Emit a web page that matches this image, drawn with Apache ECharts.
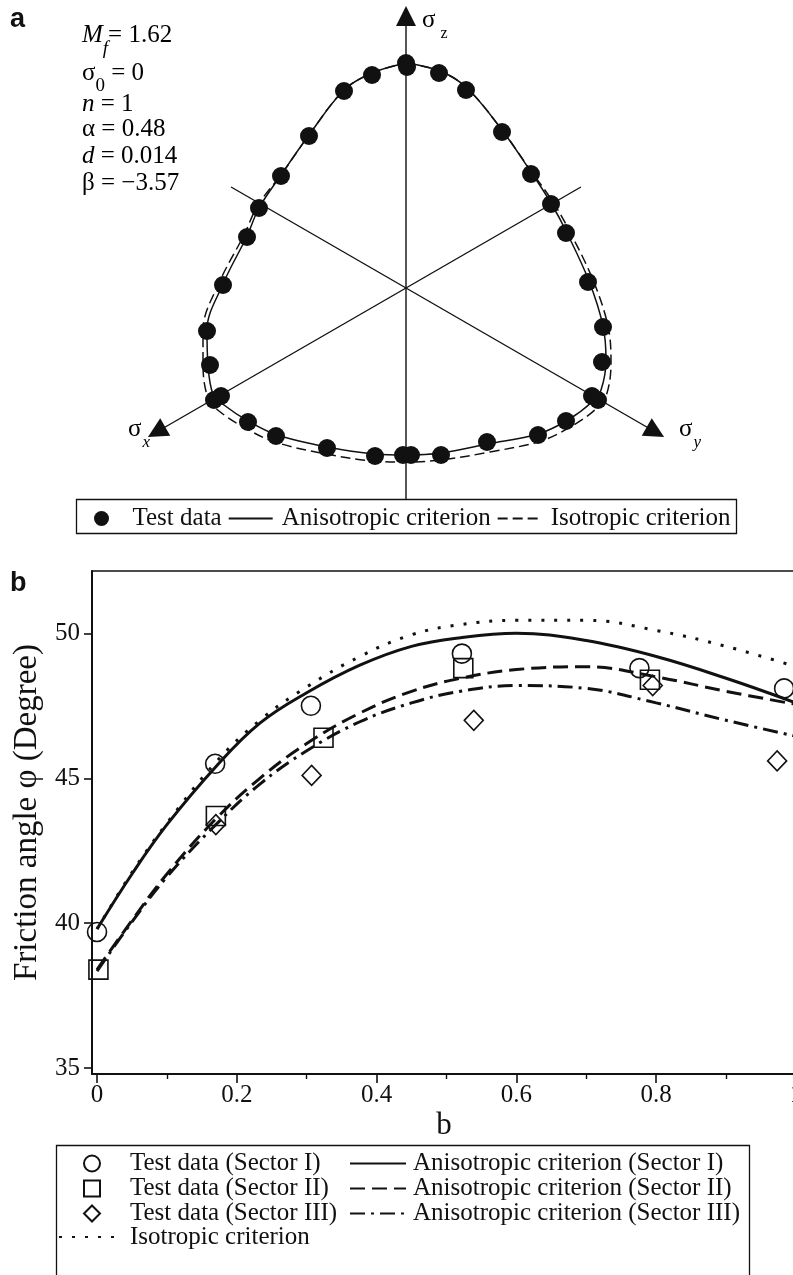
<!DOCTYPE html>
<html><head><meta charset="utf-8">
<script src="https://cdn.jsdelivr.net/npm/echarts@6/dist/echarts.min.js"></script>
<style>html,body{margin:0;padding:0;background:#fff}#c{width:793px;height:1275px}</style>
</head><body><div id="c"></div>
<script>
// ================= Panel a: deviatoric (pi) plane, normalised units =================
const testDataX = [0, 0.01, -0.34, -0.62, -0.97, -1.25, -1.47, -1.59, -1.83, -1.99, -1.96, -1.92, -1.85, -1.58, -1.30, -0.79, -0.31, -0.03, 0.05, 0.35, 0.81, 1.32, 1.60, 1.86, 1.92, 1.96, 1.97, 1.82, 1.60, 1.45, 1.25, 0.96, 0.60, 0.33];
const testDataY = [2.25, 2.21, 2.13, 1.97, 1.52, 1.12, 0.80, 0.51, 0.03, -0.43, -0.77, -1.12, -1.08, -1.34, -1.48, -1.60, -1.68, -1.67, -1.67, -1.67, -1.54, -1.47, -1.33, -1.08, -1.12, -0.74, -0.39, 0.06, 0.55, 0.84, 1.14, 1.56, 1.98, 2.15];

const anisoX = [0, 0.34, 0.61, 0.96, 1.25, 1.45, 1.61, 1.83, 1.97, 2.00, 1.95, 1.86, 1.62, 1.32, 0.82, 0.35, 0, -0.31, -0.79, -1.29, -1.58, -1.82, -1.93, -1.98, -1.99, -1.83, -1.59, -1.47, -1.25, -0.97, -0.62, -0.34, 0];
const anisoY = [2.25, 2.17, 2.00, 1.58, 1.16, 0.85, 0.55, 0.07, -0.38, -0.72, -1.02, -1.14, -1.32, -1.46, -1.56, -1.65, -1.67, -1.66, -1.59, -1.47, -1.33, -1.17, -1.06, -0.77, -0.42, 0.04, 0.52, 0.80, 1.13, 1.53, 1.98, 2.15, 2.25];

const isoX = [0, 0.34, 0.61, 0.96, 1.25, 1.47, 1.64, 1.87, 2.02, 2.05, 2.01, 1.91, 1.66, 1.35, 0.84, 0.35, 0, -0.33, -0.80, -1.31, -1.61, -1.87, -1.98, -2.03, -2.03, -1.87, -1.62, -1.48, -1.25, -0.97, -0.62, -0.34, 0];
const isoY = [2.25, 2.17, 2.00, 1.58, 1.17, 0.86, 0.56, 0.08, -0.38, -0.74, -1.05, -1.20, -1.38, -1.53, -1.64, -1.72, -1.74, -1.73, -1.66, -1.54, -1.40, -1.23, -1.10, -0.77, -0.42, 0.05, 0.53, 0.83, 1.13, 1.53, 1.98, 2.15, 2.25];

// principal stress axes: direction (deg), positive reach (arrow tip), negative reach
const axisNames = ['z', 'x', 'y'];
const axisAngles = [90, 210, -30];
const axisTip = [2.82, 2.98, 2.98];
const axisTail = [2.11, 2.02, 2.02];

const paramLines = [
  '{it|M}{subit|f}{n|= 1.62}',
  '{n|σ}{sub|0}{n| = 0}',
  '{it|n}{n| = 1}',
  '{n|α = 0.48}',
  '{it|d}{n| = 0.014}',
  '{n|β = −3.57}'
];

// ================= Panel b: friction angle vs b =================
const bSectorI = [0, 0.169, 0.306, 0.522, 0.776, 0.983];
const phiSectorI = [39.7, 45.5, 47.5, 49.3, 48.8, 48.1];
const bSectorII = [0.002, 0.17, 0.324, 0.524, 0.791];
const phiSectorII = [38.4, 43.7, 46.4, 48.8, 48.4];
const bSectorIII = [0.17, 0.307, 0.539, 0.795, 0.973];
const phiSectorIII = [43.4, 45.1, 47.0, 48.2, 45.6];

const bCurve = [0, 0.05, 0.1, 0.17, 0.233, 0.3, 0.376, 0.45, 0.52, 0.6, 0.7, 0.8, 0.9, 1.0];
const phiAnisoI = [39.8, 41.7, 43.4, 45.4, 46.9, 47.95, 48.9, 49.55, 49.85, 50.0, 49.75, 49.2, 48.45, 47.6];
const phiAnisoII = [38.4, 40.1, 41.7, 43.6, 45.0, 46.2, 47.25, 48.0, 48.45, 48.75, 48.85, 48.5, 48.0, 47.55];
const phiAnisoIII = [38.35, 40.05, 41.6, 43.4, 44.8, 45.95, 46.95, 47.6, 48.0, 48.2, 48.1, 47.6, 47.0, 46.45];
const phiIso = [39.8, 41.75, 43.45, 45.55, 47.0, 48.15, 49.2, 49.95, 50.3, 50.45, 50.45, 50.1, 49.55, 48.85];

const bTicks = [0, 0.2, 0.4, 0.6, 0.8, 1];
const bMinorTicks = [0.1, 0.3, 0.5, 0.7, 0.9];
const phiTicks = [35, 40, 45, 50];

// ================= build =================
const FONT = 'Liberation Serif';
const INK = '#111111';
const zip = (xs, ys) => xs.map((x, i) => [x, ys[i]]);
const rad = d => d * Math.PI / 180;

const chart = echarts.init(document.getElementById('c'), null, {renderer: 'canvas'});

const axisLineSeries = axisAngles.map((a, i) => ({
  type: 'line', name: 'axis-' + axisNames[i], xAxisIndex: 0, yAxisIndex: 0,
  data: [[-axisTail[i] * Math.cos(rad(a)), -axisTail[i] * Math.sin(rad(a))],
         [(axisTip[i] - 0.1) * Math.cos(rad(a)), (axisTip[i] - 0.1) * Math.sin(rad(a))]],
  symbol: 'none', silent: true, lineStyle: {color: INK, width: 1.4}, z: 1
}));

const arrowSeries = {
  type: 'scatter', name: 'arrows', xAxisIndex: 0, yAxisIndex: 0, silent: true,
  data: axisAngles.map((a, i) => ({
    value: [(axisTip[i] - 0.1) * Math.cos(rad(a)), (axisTip[i] - 0.1) * Math.sin(rad(a))],
    symbolRotate: a - 90
  })),
  symbol: 'triangle', symbolSize: [20, 20], itemStyle: {color: INK, opacity: 1}, z: 2
};

const base = {fontFamily: FONT, color: INK, verticalAlign: 'bottom'};
const rich = {
  n: Object.assign({fontSize: 25, lineHeight: 25, padding: [0, 0, 10, 0]}, base),
  it: Object.assign({fontSize: 25, lineHeight: 25, padding: [0, 0, 10, 0], fontStyle: 'italic'}, base),
  sub: Object.assign({fontSize: 19, lineHeight: 19}, base),
  subit: Object.assign({fontSize: 19, lineHeight: 19, fontStyle: 'italic'}, base),
  g: Object.assign({fontSize: 25, lineHeight: 25, padding: [0, 0, 9, 0]}, base),
  ax: Object.assign({fontSize: 16, lineHeight: 16, padding: [0, 0, 0, 5]}, base),
  axit: Object.assign({fontSize: 17, lineHeight: 17, fontStyle: 'italic', padding: [0, 0, 0, 1]}, base)
};
const paramTops = [23, 60.5, 91.5, 116.5, 143.5, 170.5];
const graphics = paramLines.map((t, i) => ({
  type: 'text', left: 82, top: paramTops[i], style: {text: t, rich: rich}
}));
graphics.push(
  {type: 'text', left: 10, top: 6, style: {text: 'a', font: 'bold 27px "Liberation Sans"', fill: INK}},
  {type: 'text', left: 10, top: 570, style: {text: 'b', font: 'bold 27px "Liberation Sans"', fill: INK}},
  {type: 'text', left: 422, top: 8, style: {text: '{g|σ}{ax|z}', rich: rich}},
  {type: 'text', left: 128, top: 417, style: {text: '{g|σ}{axit|x}', rich: rich}},
  {type: 'text', left: 679, top: 417, style: {text: '{g|σ}{axit|y}', rich: rich}},
  {type: 'rect', shape: {x: 76.5, y: 499.5, width: 660, height: 34}, style: {fill: 'none', stroke: INK, lineWidth: 1.3}},
  {type: 'rect', shape: {x: 56.5, y: 1145.5, width: 693, height: 160}, style: {fill: 'none', stroke: INK, lineWidth: 1.3}}
);

const legendText = {fontFamily: FONT, fontSize: 25, color: INK};
const hollow = {color: 'rgba(0,0,0,0)', borderColor: INK, borderWidth: 1.6, opacity: 1};
const noSym = {color: 'rgba(0,0,0,0)', opacity: 0};

const option = {
  backgroundColor: '#fff',
  animation: false,
  textStyle: {fontFamily: FONT},
  grid: [
    {left: 0, top: 0, width: 793, height: 500, outerBoundsMode: 'none', containLabel: false},
    {left: 92, top: 571, width: 704, height: 503, outerBoundsMode: 'none', containLabel: false}
  ],
  xAxis: [
    {gridIndex: 0, type: 'value', min: -4.06, max: 3.87, show: false},
    {gridIndex: 1, type: 'value', min: -0.0072, max: 1.0,
     name: 'b', nameLocation: 'middle', nameGap: 36,
     nameTextStyle: {fontFamily: FONT, fontSize: 31, color: INK},
     axisLine: {show: true, onZero: false, lineStyle: {color: INK, width: 2}},
     axisTick: {show: true, length: 9, customValues: bTicks, lineStyle: {color: INK, width: 1.6}},
     axisLabel: {show: true, customValues: bTicks, margin: 9, fontFamily: FONT, fontSize: 25, color: INK},
     splitLine: {show: false}},
    {gridIndex: 1, type: 'value', min: -0.0072, max: 1.0, position: 'bottom',
     axisLine: {show: false}, axisLabel: {show: false}, splitLine: {show: false},
     axisTick: {show: true, length: 5, customValues: bMinorTicks, lineStyle: {color: INK, width: 1.4}}},
    {gridIndex: 1, type: 'value', min: -0.0072, max: 1.0, position: 'top',
     axisLine: {show: true, onZero: false, lineStyle: {color: INK, width: 1.6}},
     axisTick: {show: false}, axisLabel: {show: false}, splitLine: {show: false}}
  ],
  yAxis: [
    {gridIndex: 0, type: 'value', min: -2.12, max: 2.88, show: false},
    {gridIndex: 1, type: 'value', min: 34.8, max: 52.15,
     name: 'Friction angle φ (Degree)', nameLocation: 'middle', nameGap: 44, nameRotate: 90,
     nameTextStyle: {fontFamily: FONT, fontSize: 33, color: INK, padding: [0, 0, 0, 20]},
     axisLine: {show: true, onZero: false, lineStyle: {color: INK, width: 2}},
     axisTick: {show: true, length: 8, customValues: phiTicks, lineStyle: {color: INK, width: 1.6}},
     axisLabel: {show: true, customValues: phiTicks, margin: 12, fontFamily: FONT, fontSize: 25, color: INK},
     splitLine: {show: false}}
  ],
  legend: [
    {left: 94, top: 506, padding: 0, orient: 'horizontal', itemWidth: 44, itemHeight: 15, itemGap: 6,
     selectedMode: false, textStyle: Object.assign({padding: [0, 0, 0, 4]}, legendText),
     data: ['Test data', 'Anisotropic criterion', 'Isotropic criterion']},
    {left: 83, top: 1151, padding: 0, orient: 'vertical', itemWidth: 16, itemHeight: 16, itemGap: 0,
     selectedMode: false, textStyle: Object.assign({padding: [0, 0, 0, 25], lineHeight: 24.5}, legendText),
     data: ['Test data (Sector I)', 'Test data (Sector II)', 'Test data (Sector III)']},
    {left: 58, top: 1224.5, padding: 0, orient: 'vertical', itemWidth: 61, itemHeight: 16, itemGap: 0,
     selectedMode: false, textStyle: Object.assign({padding: [0, 0, 0, 5], lineHeight: 24.5}, legendText),
     formatter: n => n.replace(' [b]', ''),
     data: ['Isotropic criterion [b]']},
    {left: 349, top: 1151, padding: 0, orient: 'vertical', itemWidth: 56, itemHeight: 16, itemGap: 0,
     selectedMode: false, textStyle: Object.assign({padding: [0, 0, 0, 2], lineHeight: 24.5}, legendText),
     data: ['Anisotropic criterion (Sector I)', 'Anisotropic criterion (Sector II)', 'Anisotropic criterion (Sector III)']}
  ],
  graphic: graphics,
  series: [
    ...axisLineSeries,
    arrowSeries,
    {type: 'line', name: 'Isotropic criterion', xAxisIndex: 0, yAxisIndex: 0,
     data: zip(isoX, isoY), symbol: 'none', smooth: 0.35, silent: true, itemStyle: noSym,
     lineStyle: {color: INK, width: 1.5, type: [10, 5]}, z: 3},
    {type: 'line', name: 'Anisotropic criterion', xAxisIndex: 0, yAxisIndex: 0,
     data: zip(anisoX, anisoY), symbol: 'none', smooth: 0.35, silent: true, itemStyle: noSym,
     lineStyle: {color: INK, width: 1.5}, z: 3},
    {type: 'scatter', name: 'Test data', xAxisIndex: 0, yAxisIndex: 0,
     data: zip(testDataX, testDataY), symbol: 'circle', symbolSize: 18, silent: true,
     itemStyle: {color: INK, opacity: 1}, z: 4},

    {type: 'line', name: 'Isotropic criterion [b]', xAxisIndex: 1, yAxisIndex: 1,
     data: zip(bCurve, phiIso), symbol: 'none', smooth: 0.4, silent: true, itemStyle: noSym,
     lineStyle: {color: INK, width: 3, type: [3, 10], cap: 'butt'}, z: 3},
    {type: 'line', name: 'Anisotropic criterion (Sector I)', xAxisIndex: 1, yAxisIndex: 1,
     data: zip(bCurve, phiAnisoI), symbol: 'none', smooth: 0.4, silent: true, itemStyle: noSym,
     lineStyle: {color: INK, width: 3}, z: 3},
    {type: 'line', name: 'Anisotropic criterion (Sector II)', xAxisIndex: 1, yAxisIndex: 1,
     data: zip(bCurve, phiAnisoII), symbol: 'none', smooth: 0.4, silent: true, itemStyle: noSym,
     lineStyle: {color: INK, width: 3, type: [15, 7]}, z: 3},
    {type: 'line', name: 'Anisotropic criterion (Sector III)', xAxisIndex: 1, yAxisIndex: 1,
     data: zip(bCurve, phiAnisoIII), symbol: 'none', smooth: 0.4, silent: true, itemStyle: noSym,
     lineStyle: {color: INK, width: 3, type: [15, 6, 3, 6]}, z: 3},
    {type: 'scatter', name: 'Test data (Sector I)', xAxisIndex: 1, yAxisIndex: 1,
     data: zip(bSectorI, phiSectorI), symbol: 'circle', symbolSize: 19, silent: true,
     itemStyle: hollow, z: 4},
    {type: 'scatter', name: 'Test data (Sector II)', xAxisIndex: 1, yAxisIndex: 1,
     data: zip(bSectorII, phiSectorII), symbol: 'rect', symbolSize: 19, silent: true,
     itemStyle: hollow, z: 4},
    {type: 'scatter', name: 'Test data (Sector III)', xAxisIndex: 1, yAxisIndex: 1,
     data: zip(bSectorIII, phiSectorIII), symbol: 'diamond', symbolSize: [19, 20], silent: true,
     itemStyle: hollow, z: 4}
  ]
};
chart.setOption(option);
</script>
</body></html>
